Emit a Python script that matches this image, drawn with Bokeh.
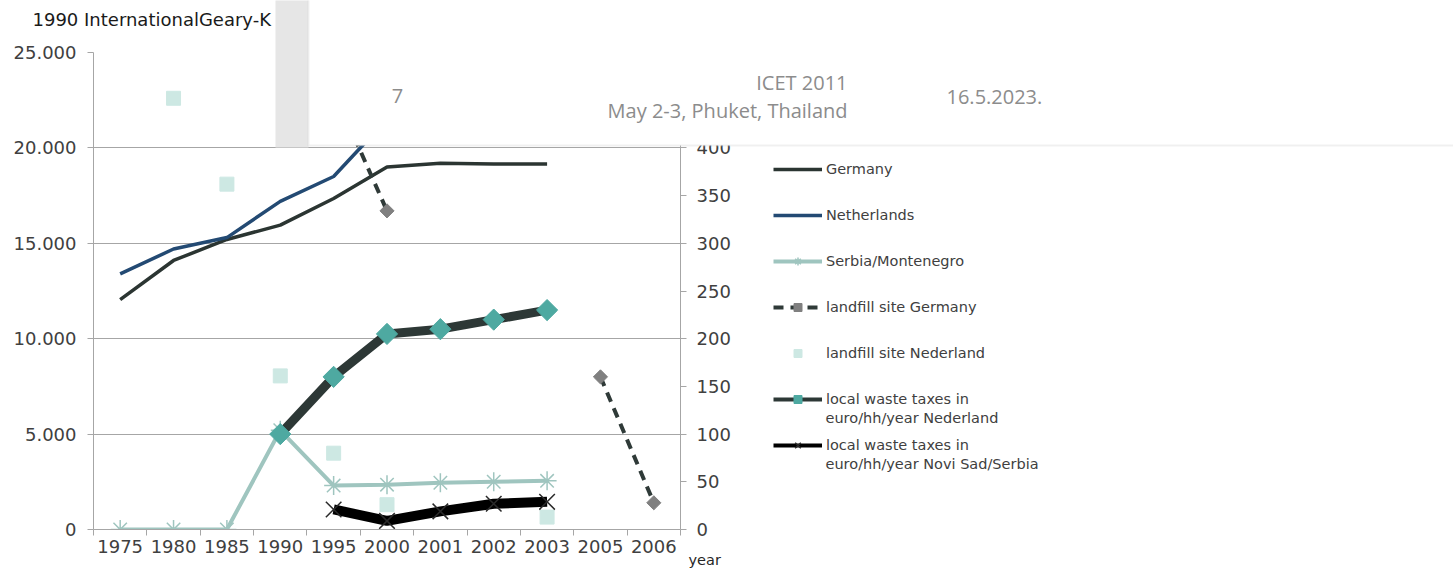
import numpy as np
from bokeh.plotting import figure
from bokeh.layouts import column
from bokeh.models import (Range1d, LinearAxis, FixedTicker, CustomJSTickFormatter,
                          Legend, LegendItem, Label, BoxAnnotation, GridBox)
from bokeh.embed import file_html
from bokeh.resources import INLINE

nan = float("nan")

# ---- data ----
years = ["1975", "1980", "1985", "1990", "1995", "2000", "2001", "2002", "2003", "2005", "2006"]
# left axis: 1990 International Geary-Khamis dollars
germany = [12050, 14100, 15200, 15950, 17350, 19000, 19200, 19150, 19150, nan, nan]
netherlands = [13400, 14700, 15300, 17200, 18500, 21500, 21900, 22100, 22200, nan, nan]
serbia = [0, 0, 0, 5200, 2300, 2350, 2450, 2500, 2550, nan, nan]
# right axis
landfill_de = [nan, nan, nan, nan, 460, 334, nan, nan, nan, 160, 28]
landfill_nl = [nan, 452, 362, 161, 80, 26, nan, nan, 13, nan, nan]
waste_nl = [nan, nan, nan, 100, 160, 205, 210, 220, 230, nan, nan]
waste_ns = [nan, nan, nan, nan, 21, 9, 19, 27, 29, nan, nan]

left_ticks = [0, 5000, 10000, 15000, 20000, 25000]
right_ticks = [0, 50, 100, 150, 200, 250, 300, 350, 400]

title_text = "1990 InternationalGeary-K"
legend_labels = ["Germany", "Netherlands", "Serbia/Montenegro", "landfill site Germany",
                 "landfill site Nederland", "local waste taxes in", "local waste taxes in"]
legend_second = ["euro/hh/year Nederland", "euro/hh/year Novi Sad/Serbia"]
footer_num = "7"
footer_conf = ["ICET 2011", "May 2-3, Phuket, Thailand"]
footer_date = "16.5.2023."
x_title = "year"

W, H = 1453, 570

# ---- chart figure ----
n = len(years)
pos = np.arange(n) + 0.5

p = figure(width=W, height=H, output_backend="svg", toolbar_location=None,
           x_range=Range1d(0, n), y_range=Range1d(0, 25000),
           min_border_left=93, min_border_right=773, min_border_top=52, min_border_bottom=41,
           outline_line_color=None, background_fill_color="white", border_fill_color="white")
p.extra_y_ranges = {"right": Range1d(0, 500)}

AX = "#a6a6a6"
TXT = "#404040"
FS = "18px"

xa = p.xaxis[0]
xa.ticker = FixedTicker(ticks=list(pos), minor_ticks=list(range(n + 1)))
xa.formatter = CustomJSTickFormatter(args=dict(labels=years), code="return labels[Math.floor(tick)];")
xa.major_tick_out = 0
xa.major_tick_in = 0
xa.minor_tick_out = 6
xa.minor_tick_in = 0
xa.axis_line_color = AX
xa.minor_tick_line_color = AX
xa.major_label_text_font = "DejaVu Sans"
xa.major_label_text_font_size = FS
xa.major_label_text_color = TXT
xa.major_label_standoff = 4

ya = p.yaxis[0]
ya.ticker = FixedTicker(ticks=left_ticks, minor_ticks=[])
ya.major_label_overrides = {t: ("{:,}".format(t).replace(",", ".")) for t in left_ticks}
ya.major_tick_out = 6
ya.major_tick_in = 0
ya.axis_line_color = AX
ya.major_tick_line_color = AX
ya.major_label_text_font = "DejaVu Sans"
ya.major_label_text_font_size = FS
ya.major_label_text_color = TXT
ya.major_label_standoff = 11

ra = LinearAxis(y_range_name="right", ticker=FixedTicker(ticks=right_ticks, minor_ticks=[]))
ra.major_tick_out = 6
ra.major_tick_in = 0
ra.axis_line_color = AX
ra.major_tick_line_color = AX
ra.major_label_text_font = "DejaVu Sans"
ra.major_label_text_font_size = FS
ra.major_label_text_color = TXT
ra.major_label_standoff = 10
p.add_layout(ra, "right")

p.xgrid.visible = False
p.ygrid.ticker = FixedTicker(ticks=left_ticks, minor_ticks=[])
p.ygrid.grid_line_color = AX
p.ygrid.grid_line_width = 1

arr = lambda a: np.array(a, dtype=float)

# ---- series ----
r_de = p.line(pos, arr(germany), line_color="#2b3532", line_width=3.5)
r_nl = p.line(pos, arr(netherlands), line_color="#234a73", line_width=3.5)
r_rs = p.line(pos, arr(serbia), line_color="#9fc5bf", line_width=4)
r_rs_m = p.scatter(pos, arr(serbia), marker="asterisk", size=19, line_color="#9fc5bf", line_width=1.5)

r_ld = p.line(pos, arr(landfill_de), line_color="#2f3a38", line_width=4, line_dash="10 7",
              y_range_name="right")
r_ld_m = p.scatter(pos, arr(landfill_de), marker="square", angle=np.pi / 4, size=10,
                   fill_color="#808080", line_color="#808080", y_range_name="right")

r_ln = p.scatter(pos, arr(landfill_nl), marker="square", size=14, fill_color="#cde8e3",
                 line_color="#cde8e3", y_range_name="right")

# thin copies under the thick tax lines give the legend its slimmer key lines
r_wn_key = p.line(pos, arr(waste_nl), line_color="#2d3836", line_width=4, y_range_name="right")
r_wn = p.line(pos, arr(waste_nl), line_color="#2d3836", line_width=9, y_range_name="right")
r_wn_m = p.scatter(pos, arr(waste_nl), marker="square", angle=np.pi / 4, size=15,
                   fill_color="#4ea9a1", line_color="#4ea9a1", y_range_name="right")

r_ws_key = p.line(pos, arr(waste_ns), line_color="#000000", line_width=4, y_range_name="right")
r_ws = p.line(pos, arr(waste_ns), line_color="#000000", line_width=10, y_range_name="right")
r_ws_m = p.scatter(pos, arr(waste_ns), marker="x", size=22, line_color="#2a2a2a", line_width=1.5,
                   y_range_name="right")

# ---- legend in the right side panel ----
LFS = "14.5px"
groups = [[r_de], [r_nl], [r_rs, r_rs_m], [r_ld, r_ld_m], [r_ln],
          [r_wn_key, r_wn_m], [r_ws_key, r_ws_m]]
items = [LegendItem(label=lbl, renderers=g) for lbl, g in zip(legend_labels, groups)]
legend = Legend(items=items, location=(-214, 74), orientation="vertical",
                glyph_width=49, glyph_height=20, label_height=20, spacing=26,
                padding=0, margin=0, label_standoff=4,
                border_line_color=None, background_fill_alpha=0,
                label_text_font="DejaVu Sans", label_text_font_size=LFS,
                label_text_color=TXT)
p.add_layout(legend, "right")

# ---- overlay figure: texts outside the frame and the slide footer box ----
ov = figure(width=W, height=H, output_backend="svg", toolbar_location=None,
            x_range=Range1d(0, W), y_range=Range1d(H, 0),
            x_axis_type=None, y_axis_type=None,
            min_border=0, min_border_left=0, min_border_right=0,
            min_border_top=0, min_border_bottom=0,
            outline_line_color=None, background_fill_alpha=0, border_fill_alpha=0)
ov.xgrid.visible = False
ov.ygrid.visible = False

for txt, yy in zip(legend_second, [417, 463]):
    ov.add_layout(Label(x=825, y=yy, text=txt,
                        text_font="DejaVu Sans", text_font_size=LFS, text_color=TXT,
                        text_align="left", text_baseline="middle"))

ov.add_layout(Label(x=688, y=559, text=x_title,
                    text_font="DejaVu Sans", text_font_size="14.5px", text_color="#262626",
                    text_align="left", text_baseline="middle"))

ov.add_layout(Label(x=32, y=19, text=title_text,
                    text_font="DejaVu Sans", text_font_size="18px", text_color="#1a1a1a",
                    text_align="left", text_baseline="middle"))

ov.add_layout(BoxAnnotation(left=275, right=308, top=-5, bottom=147,
                            fill_color="#e6e6e6", fill_alpha=1, line_color=None, level="overlay"))
ov.add_layout(BoxAnnotation(left=308, right=W + 10, top=-5, bottom=145,
                            fill_color="white", fill_alpha=1, line_color="#cccccc",
                            line_width=2, level="overlay"))

FOOT = "#8c8c8c"
for txt, xx, yy, al in [(footer_num, 397, 95, "center"),
                        (footer_conf[0], 847, 82, "right"),
                        (footer_conf[1], 847, 110, "right"),
                        (footer_date, 946, 96, "left")]:
    ov.add_layout(Label(x=xx, y=yy, text=txt,
                        text_font="Open Sans", text_font_size="20px", text_color=FOOT,
                        text_align=al, text_baseline="middle", level="overlay"))

page = GridBox(children=[(p, 0, 0), (column(ov), 0, 0)])
open("out.html", "w").write(file_html(page, INLINE))
